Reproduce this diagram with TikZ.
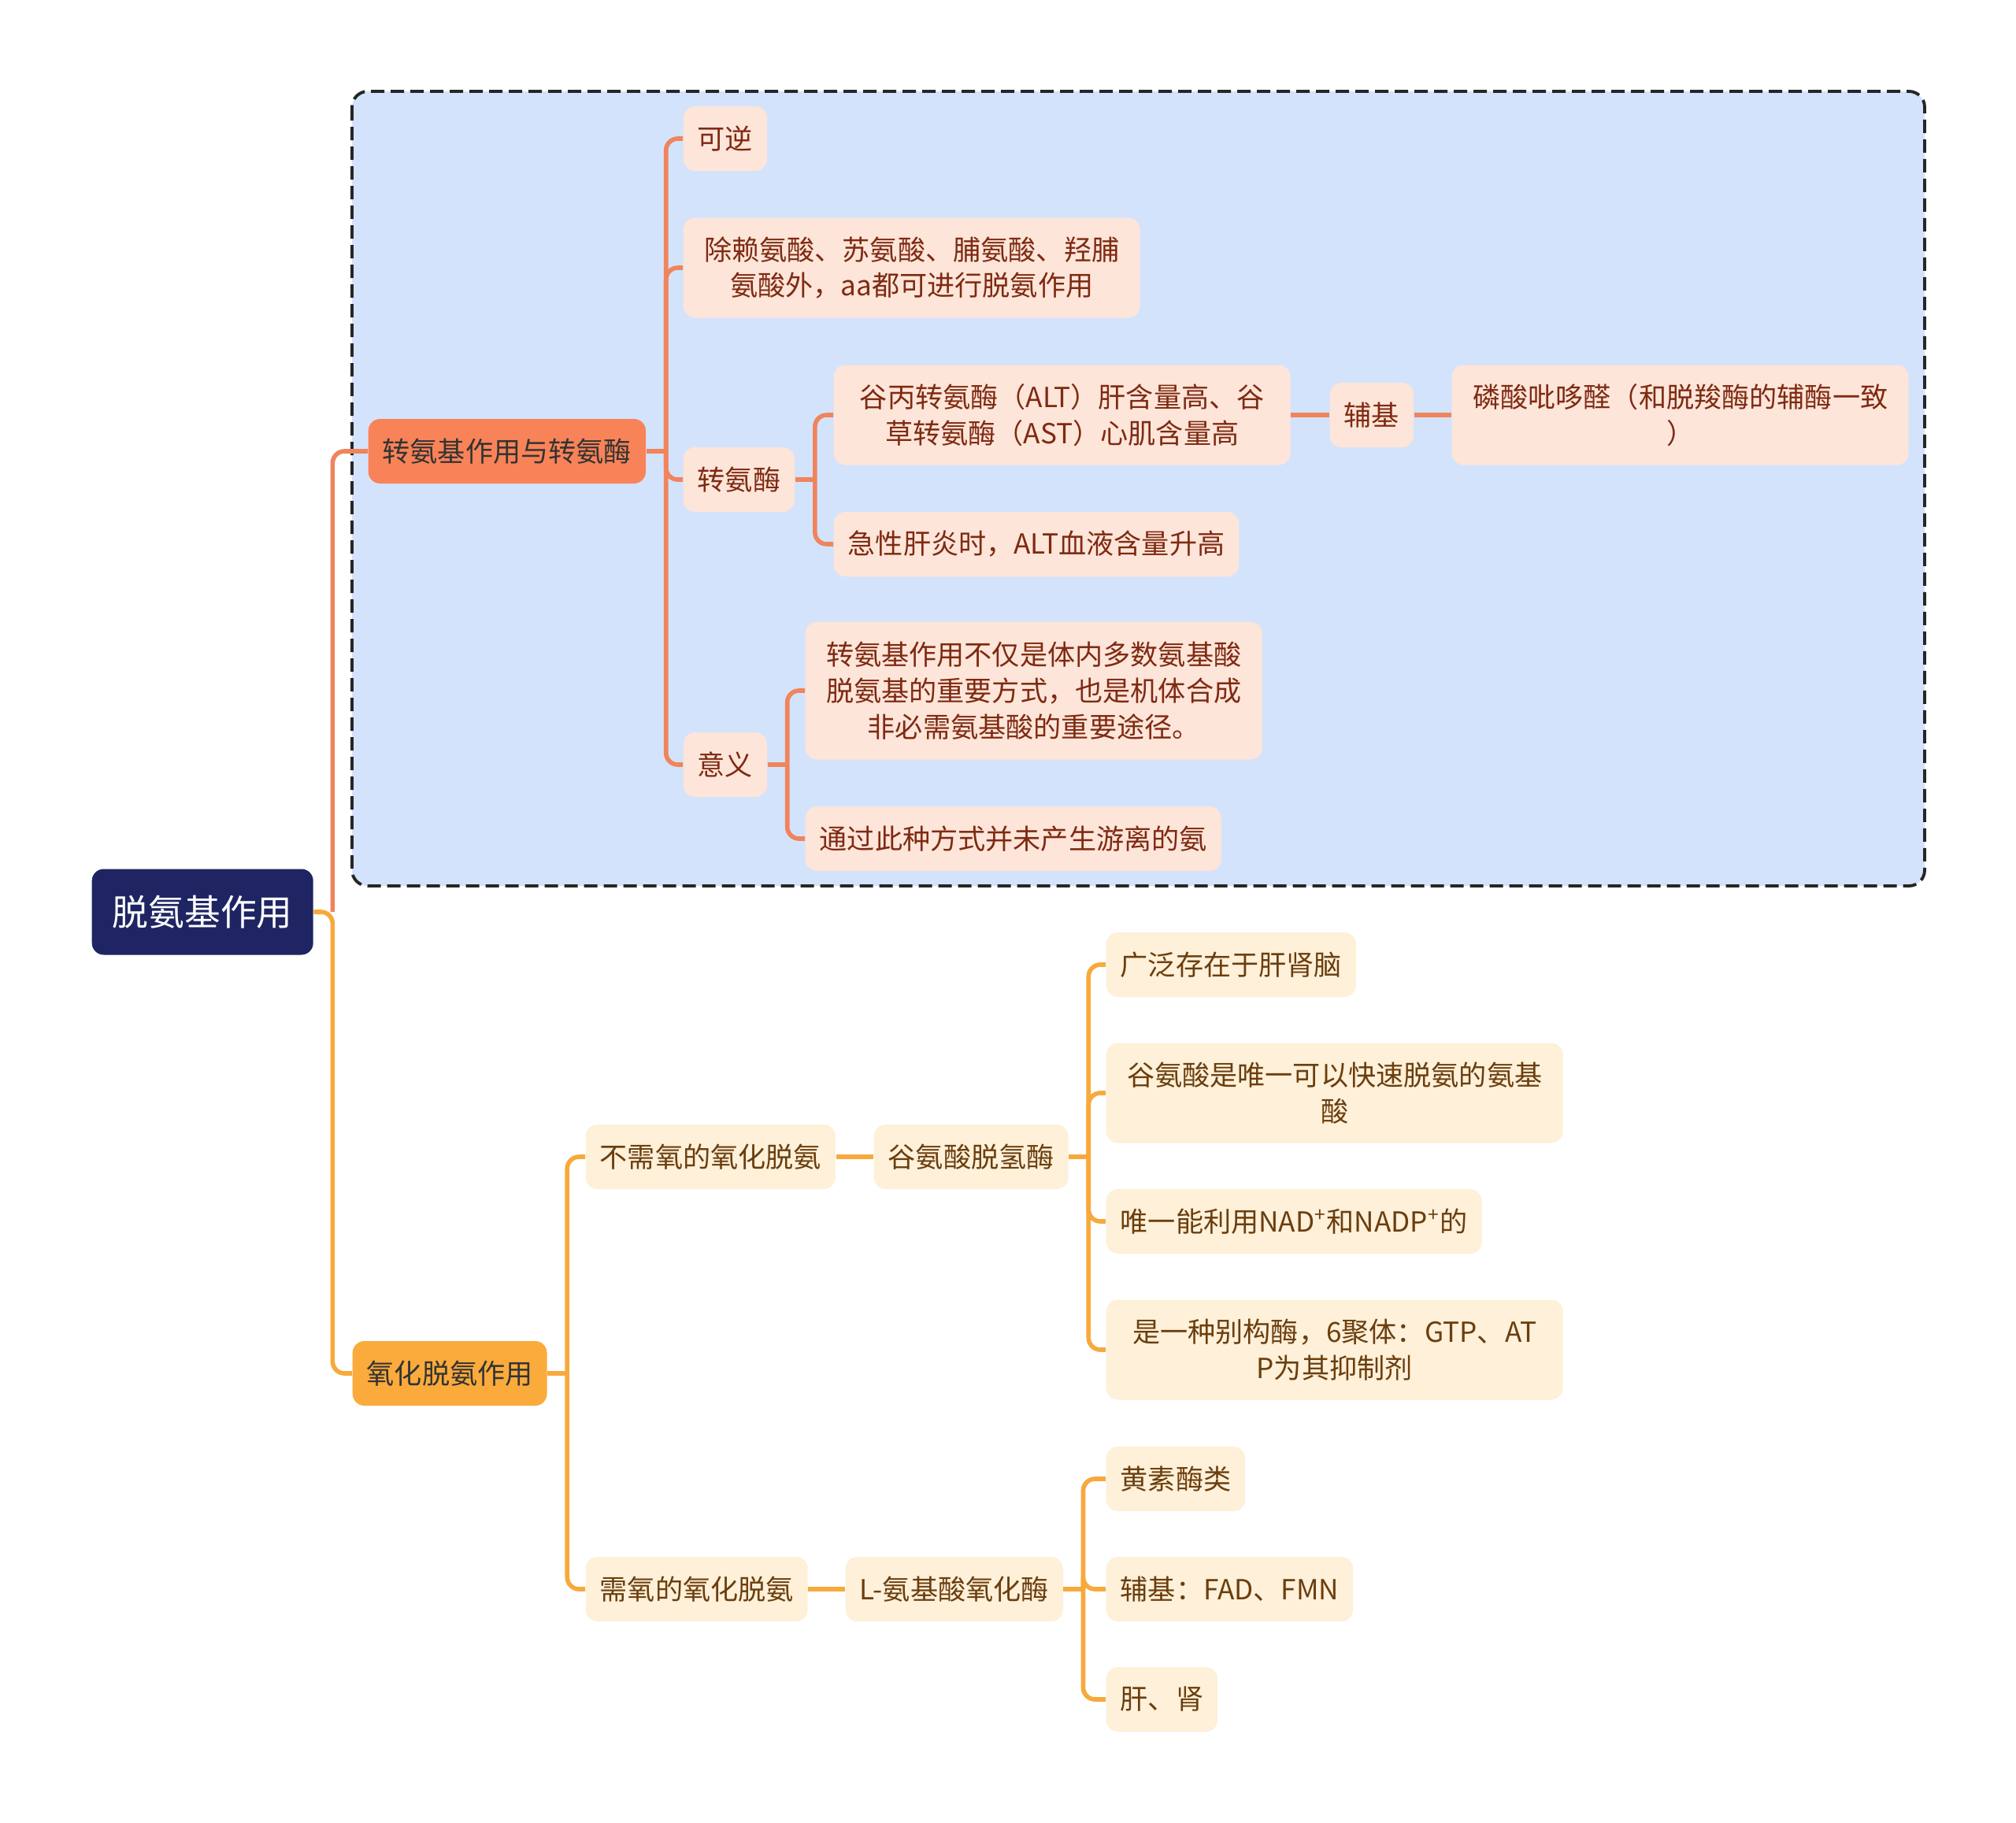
\documentclass[tikz,border=0pt]{standalone}
\usepackage{fontspec}
\setmainfont{Noto Sans CJK SC}
\usetikzlibrary{calc}

\definecolor{rootblue}{HTML}{1F2562}
\definecolor{coralmain}{HTML}{F98358}
\definecolor{coralline}{HTML}{F0845C}
\definecolor{coralleaf}{HTML}{FDE5D9}
\definecolor{coraltext}{HTML}{7F2A12}
\definecolor{ambermain}{HTML}{FAAB3B}
\definecolor{amberline}{HTML}{F7A93C}
\definecolor{amberleaf}{HTML}{FEF0D9}
\definecolor{ambertext}{HTML}{6B3E0E}
\definecolor{zoneblue}{HTML}{D4E3FC}

\tikzset{
  box/.style={rounded corners=0.15cm, inner xsep=0.18cm, inner ysep=0.1cm,
    minimum height=0.82cm, align=center, anchor=west,
    font=\fontsize{10}{13}\selectfont},
  wide/.style={minimum width=5.8cm, minimum height=1.27cm},
  root/.style={rounded corners=0.15cm, fill=rootblue, text=white,
    minimum width=2.81cm, minimum height=1.09cm, anchor=west,
    font=\fontsize{13}{16}\selectfont},
}

\begin{document}
\begin{tikzpicture}
\useasboundingbox (0,0) rectangle (25.6,-23.15);

% group frame
\draw[dashed, dash pattern=on 0.17cm off 0.08cm, line width=1.1pt, draw=black!85,
  fill=zoneblue, rounded corners=0.2cm] (4.47,-1.16) rectangle (24.44,-11.25);

\node[root] (root) at (1.16,-11.58) {脱氨基作用};
\coordinate (rt) at ($(root.east)+(0.24,0)$);

\begin{scope}[leaf/.style={box, fill=coralleaf, text=coraltext},
  link/.style={draw=coralline, line width=1.6pt, rounded corners=0.15cm}]
\node[box, fill=coralmain, text=black!80] (trans) at (4.67,-5.73) {转氨基作用与转氨酶};
\coordinate (transb) at ($(trans.east)+(0.25,0)$);
\node[leaf] (rev) at (8.67,-1.76) {可逆};
\node[leaf, wide] (except) at (8.67,-3.40) {除赖氨酸、苏氨酸、脯氨酸、羟脯\\氨酸外，aa都可进行脱氨作用};
\node[leaf] (enz) at (8.67,-6.09) {转氨酶};
\node[leaf] (mean) at (8.67,-9.71) {意义};
\coordinate (enzb) at ($(enz.east)+(0.25,0)$);
\node[leaf, wide] (altast) at (10.58,-5.27) {谷丙转氨酶（ALT）肝含量高、谷\\草转氨酶（AST）心肌含量高};
\node[leaf] (acute) at (10.58,-6.91) {急性肝炎时，ALT血液含量升高};
\node[leaf] (cof) at (16.88,-5.27) {辅基};
\node[leaf, wide] (plp) at (18.43,-5.27) {磷酸吡哆醛（和脱羧酶的辅酶一致\\）};
\coordinate (meanb) at ($(mean.east)+(0.25,0)$);
\node[leaf, wide, minimum height=1.75cm] (role) at (10.22,-8.77) {转氨基作用不仅是体内多数氨基酸\\脱氨基的重要方式，也是机体合成\\非必需氨基酸的重要途径。};
\node[leaf] (free) at (10.22,-10.65) {通过此种方式并未产生游离的氨};

\draw[link] (rt) |- (trans.west);
\draw[link] (trans.east) -- (transb);
\draw[link] (transb) |- (rev.west);
\draw[link] (transb) |- (except.west);
\draw[link] (transb) |- (enz.west);
\draw[link] (transb) |- (mean.west);
\draw[link] (enz.east) -- (enzb);
\draw[link] (enzb) |- (altast.west);
\draw[link] (enzb) |- (acute.west);
\draw[link] (altast.east) -- (cof.west);
\draw[link] (cof.east) -- (plp.west);
\draw[link] (mean.east) -- (meanb);
\draw[link] (meanb) |- (role.west);
\draw[link] (meanb) |- (free.west);
\end{scope}

\begin{scope}[leaf/.style={box, fill=amberleaf, text=ambertext},
  link/.style={draw=amberline, line width=1.6pt, rounded corners=0.15cm}]
\node[box, fill=ambermain, text=black!80] (oxid) at (4.47,-17.44) {氧化脱氨作用};
\coordinate (oxidb) at ($(oxid.east)+(0.25,0)$);
\node[leaf] (anaer) at (7.43,-14.69) {不需氧的氧化脱氨};
\node[leaf] (aer) at (7.43,-20.18) {需氧的氧化脱氨};
\node[leaf] (gdh) at (11.09,-14.69) {谷氨酸脱氢酶};
\node[leaf] (lao) at (10.73,-20.18) {L-氨基酸氧化酶};
\coordinate (gdhb) at ($(gdh.east)+(0.25,0)$);
\node[leaf] (spread) at (14.04,-12.25) {广泛存在于肝肾脑};
\node[leaf, wide] (fast) at (14.04,-13.88) {谷氨酸是唯一可以快速脱氨的氨基\\酸};
\node[leaf] (nad) at (14.04,-15.51) {唯一能利用NAD\textsuperscript{+}和NADP\textsuperscript{+}的};
\node[leaf, wide] (allo) at (14.04,-17.14) {是一种别构酶，6聚体：GTP、AT\\P为其抑制剂};
\coordinate (laob) at ($(lao.east)+(0.25,0)$);
\node[leaf] (flav) at (14.04,-18.78) {黄素酶类};
\node[leaf] (fad) at (14.04,-20.18) {辅基：FAD、FMN};
\node[leaf] (organ) at (14.04,-21.58) {肝、肾};

\draw[link] (root.east) -- (rt) |- (oxid.west);
\draw[link] (oxid.east) -- (oxidb);
\draw[link] (oxidb) |- (anaer.west);
\draw[link] (oxidb) |- (aer.west);
\draw[link] (anaer.east) -- (gdh.west);
\draw[link] (aer.east) -- (lao.west);
\draw[link] (gdh.east) -- (gdhb);
\draw[link] (gdhb) |- (spread.west);
\draw[link] (gdhb) |- (fast.west);
\draw[link] (gdhb) |- (nad.west);
\draw[link] (gdhb) |- (allo.west);
\draw[link] (lao.east) -- (laob);
\draw[link] (laob) |- (flav.west);
\draw[link] (laob) |- (fad.west);
\draw[link] (laob) |- (organ.west);
\end{scope}
\end{tikzpicture}
\end{document}
